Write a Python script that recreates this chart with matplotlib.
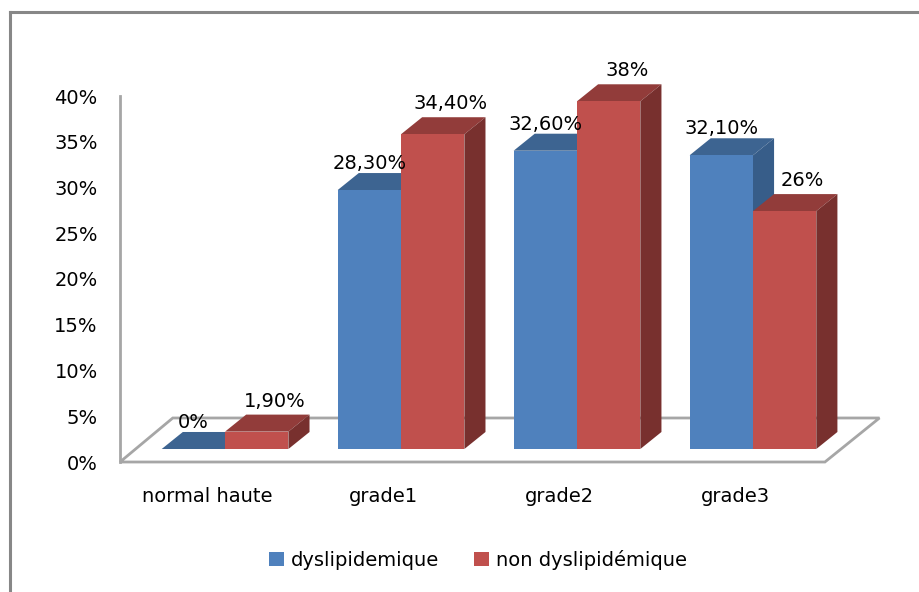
import matplotlib
matplotlib.use("Agg")
import matplotlib.pyplot as plt
from matplotlib.patches import Polygon, Patch
from matplotlib.lines import Line2D

categories = ["normal haute", "grade1", "grade2", "grade3"]
series_names = ["dyslipidemique", "non dyslipidémique"]
dyslip = [0.0, 28.3, 32.6, 32.1]
non_dyslip = [1.9, 34.4, 38.0, 26.0]
yticks = [0, 5, 10, 15, 20, 25, 30, 35, 40]

# colours: front, top, side
blue = ("#4F81BD", "#3D6491", "#375D89")
red = ("#C0504D", "#923C3A", "#78302E")
grey = "#A6A6A6"

# fake 3d layout (data units)
bar_w = 0.36
depth_x = 0.12
depth_y = 1.86
base = 1.42
floor_depth_x = 0.30
floor_depth_y = 4.81


def pct_label(v):
    if float(v).is_integer():
        return f"{int(v)}%"
    return f"{v:.2f}".replace(".", ",") + "%"


def bar3d(ax, x0, h, cols, z):
    top = base + h
    ax.bar(x0, h, width=bar_w, bottom=base, align="edge", color=cols[0],
           linewidth=0, zorder=z + 0.2, clip_on=False)
    ax.add_patch(Polygon([(x0, top), (x0 + bar_w, top),
                          (x0 + bar_w + depth_x, top + depth_y),
                          (x0 + depth_x, top + depth_y)],
                         closed=True, facecolor=cols[1], lw=0, zorder=z,
                         clip_on=False))
    ax.add_patch(Polygon([(x0 + bar_w, base), (x0 + bar_w, top),
                          (x0 + bar_w + depth_x, top + depth_y),
                          (x0 + bar_w + depth_x, base + depth_y)],
                         closed=True, facecolor=cols[2], lw=0, zorder=z + 0.1,
                         clip_on=False))


plt.rcParams["font.family"] = "DejaVu Sans"
fig = plt.figure(figsize=(9.2, 5.92), dpi=100)
ax = fig.add_axes([120 / 920, 1 - 462 / 592, 760 / 920, 366 / 592])
n = len(categories)
ax.set_xlim(-0.597, n - 0.278)
ax.set_ylim(0, 40)

# floor
x_left, x_right = -0.597, n - 0.591
ax.add_patch(Polygon([(x_left, 0), (x_right, 0),
                      (x_right + floor_depth_x + 0.01, floor_depth_y),
                      (x_left + floor_depth_x, floor_depth_y)],
                     closed=True, facecolor="white", edgecolor=grey,
                     lw=2, zorder=1, clip_on=False))

for i in range(n):
    z = 3 + i
    bar3d(ax, i - bar_w, dyslip[i], blue, z)
    bar3d(ax, i, non_dyslip[i], red, z + 0.5)
    ax.annotate(pct_label(dyslip[i]), (i - bar_w / 2, base + dyslip[i]),
                xytext=(0, 19), textcoords="offset points", ha="center",
                va="center", fontsize=14, zorder=20, annotation_clip=False)
    ax.annotate(pct_label(non_dyslip[i]), (i + bar_w / 2, base + non_dyslip[i]),
                xytext=(13, 22), textcoords="offset points", ha="center",
                va="center", fontsize=14, zorder=20, annotation_clip=False)

for s in ["top", "right", "bottom"]:
    ax.spines[s].set_visible(False)
ax.spines["left"].set_color(grey)
ax.spines["left"].set_linewidth(2)
ax.spines["left"].set_zorder(2)

ax.set_yticks(yticks)
ax.set_yticklabels([f"{t}%" for t in yticks], fontsize=14)
ax.tick_params(axis="y", length=0, pad=16)
ax.set_xticks([i - 0.10 for i in range(n)])
ax.set_xticklabels(categories, fontsize=14)
ax.tick_params(axis="x", length=0, pad=18)
ax.patch.set_visible(False)

handles = [Patch(facecolor=blue[0]), Patch(facecolor=red[0])]
fig.legend(handles, series_names, loc="center", ncol=2,
           bbox_to_anchor=(478 / 920, 1 - 560 / 592), frameon=False,
           fontsize=14, handlelength=0.75, handleheight=0.75,
           handletextpad=0.35, columnspacing=1.8)

# chart area frame (left and top edges visible)
fig.add_artist(Line2D([10 / 920, 10 / 920], [0, 1 - 12 / 592],
                      color="#878787", lw=2.2))
fig.add_artist(Line2D([10 / 920, 1], [1 - 12 / 592, 1 - 12 / 592],
                      color="#878787", lw=2.2))

fig.savefig("out.png", dpi=100, facecolor="white")
